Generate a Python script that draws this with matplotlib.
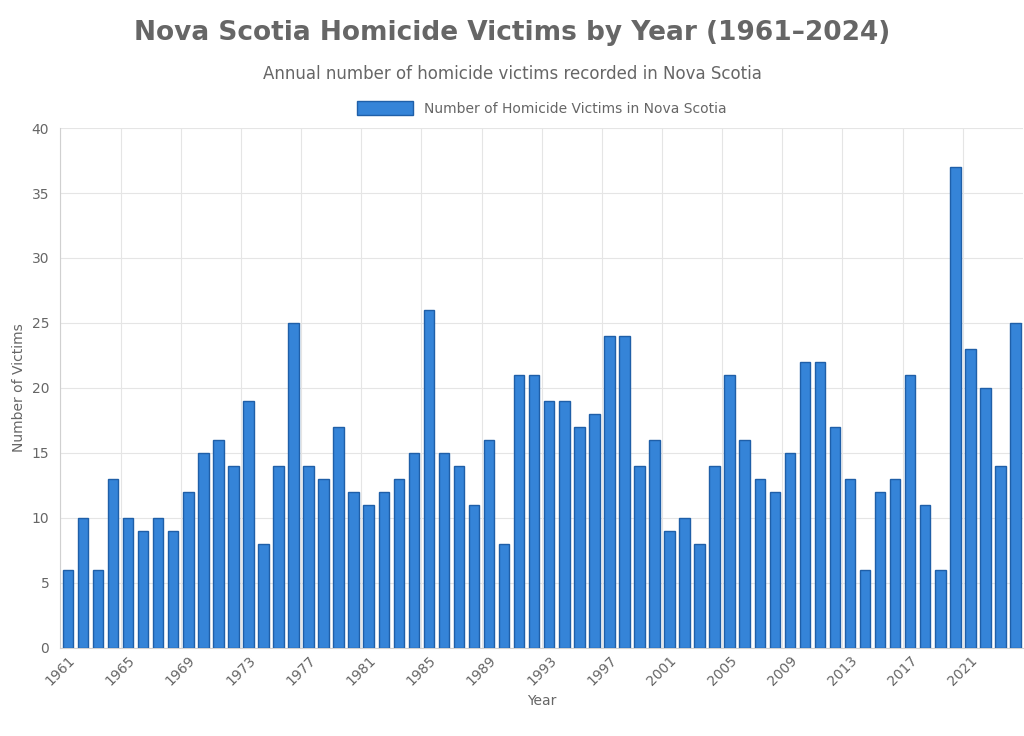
import matplotlib.pyplot as plt
import numpy as np

years = list(range(1961, 2025))
victims = [6, 10, 6, 13, 10, 9, 10, 9, 12, 15, 16, 14, 19, 8, 14, 25, 14, 13, 17, 12,
           11, 12, 13, 15, 26, 15, 14, 11, 16, 8, 21, 21, 19, 19, 17, 18, 24, 24, 14, 16,
           9, 10, 8, 14, 21, 16, 13, 12, 15, 22, 22, 17, 13, 6, 12, 13, 21, 11, 6, 37,
           23, 20, 14, 25]

fig = plt.figure(figsize=(10.24, 7.36), dpi=100)
ax = fig.add_axes([0.059, 0.12, 0.94, 0.706])
x = np.arange(len(years))
ax.bar(x, victims, width=0.7, color='#3584d8', edgecolor='#1f5fa8', linewidth=1,
       label='Number of Homicide Victims in Nova Scotia', zorder=3)

ax.set_xlim(-0.5, len(years) - 0.5)
ax.set_ylim(0, 40)
ax.set_yticks(range(0, 41, 5))
ticks = x[::4]
ax.set_xticks(ticks)
ax.set_xticklabels([str(years[i]) for i in ticks], rotation=45, ha='right',
                   rotation_mode='anchor', color='#666666', fontsize=10)
ax.tick_params(axis='y', colors='#666666', labelsize=10, length=0, pad=8)
ax.tick_params(axis='x', length=0, pad=4)
for t in ticks:
    ax.axvline(t - 0.5, color='#e5e5e5', linewidth=0.8, zorder=0)
ax.yaxis.grid(True, color='#e5e5e5', linewidth=0.8, zorder=0)
for s in ['top', 'right']:
    ax.spines[s].set_visible(False)
for s in ['left', 'bottom']:
    ax.spines[s].set_color('#d0d0d0')

ax.set_xlabel('Year', color='#666666', fontsize=10)
ax.set_ylabel('Number of Victims', color='#666666', fontsize=10)

fig.text(0.5, 0.955, 'Nova Scotia Homicide Victims by Year (1961\u20132024)', ha='center',
         va='center', fontsize=19, fontweight='bold', color='#666666')
fig.text(0.5, 0.9, 'Annual number of homicide victims recorded in Nova Scotia', ha='center',
         va='center', fontsize=12, color='#666666')
ax.legend(loc='lower center', bbox_to_anchor=(0.5, 1.0), frameon=False, fontsize=10,
          labelcolor='#666666', handlelength=4, handleheight=1.2)

fig.savefig('out.png')
